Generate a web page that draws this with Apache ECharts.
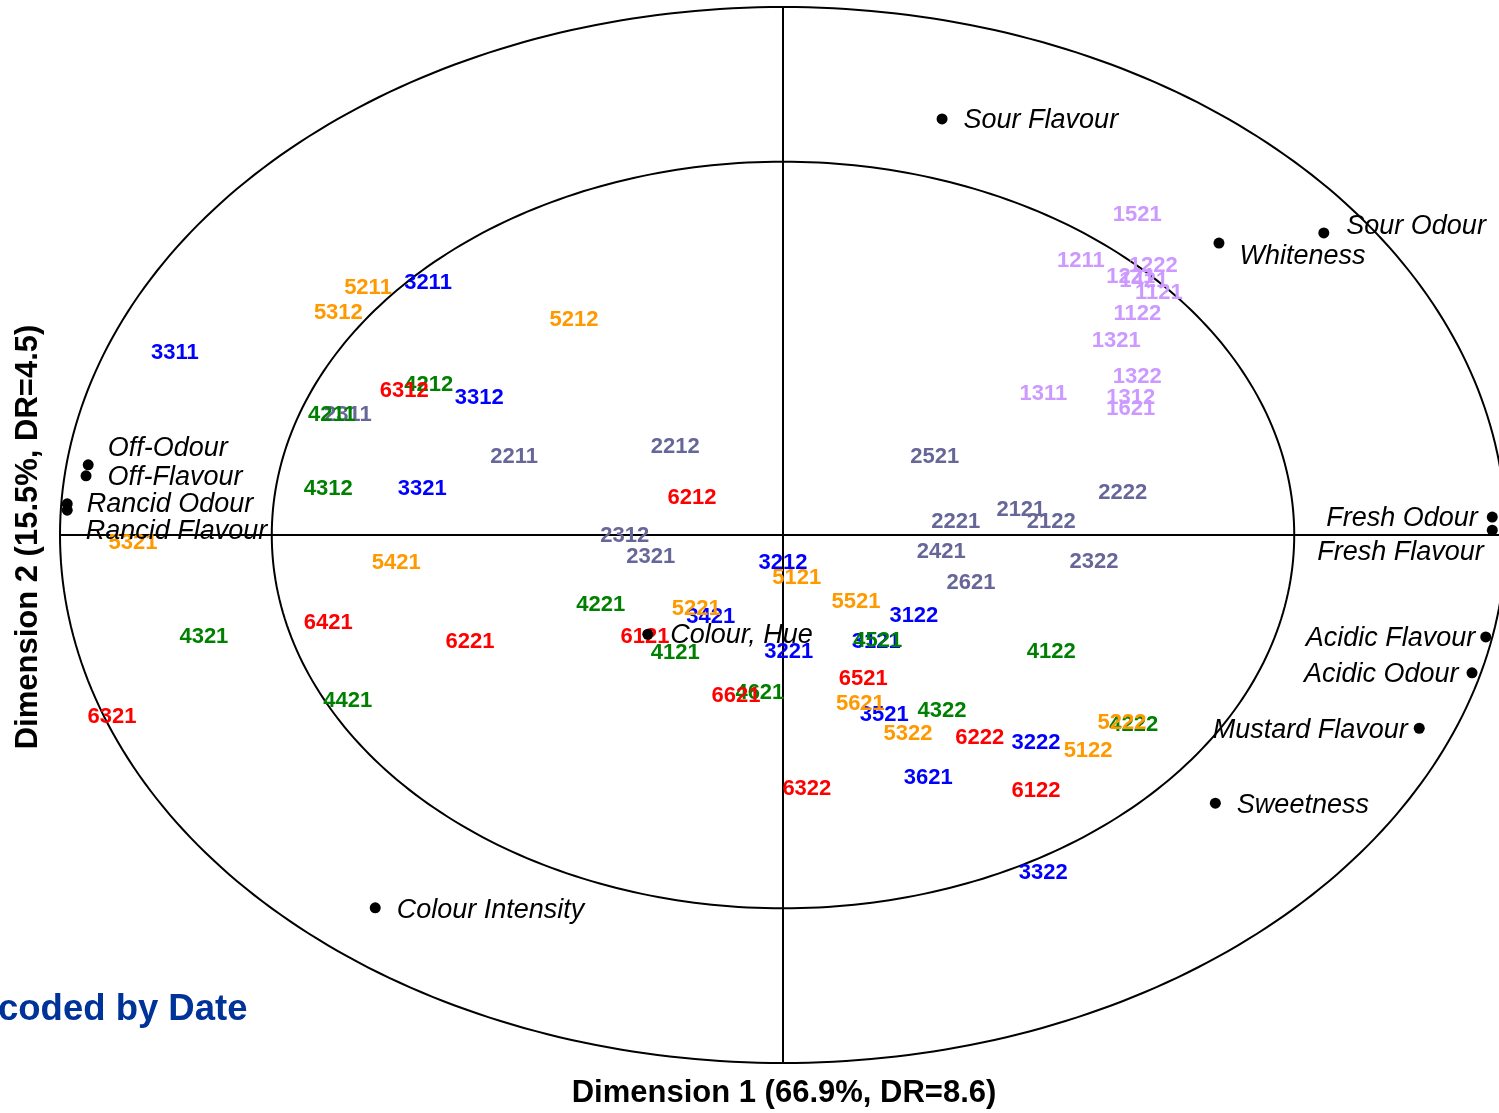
<!DOCTYPE html>
<html><head><meta charset="utf-8">
<script src="https://cdn.jsdelivr.net/npm/echarts@6/dist/echarts.min.js"></script>
<style>html,body{margin:0;padding:0;background:#fff;overflow:hidden}#c{width:1520px;height:1113px}</style>
</head><body><div id="c"></div>
<script>
// ---- Sample scores (Dimension 1, Dimension 2), grouped by date (first digit) ----
const date1Codes = ['1521','1211','1222','1221','1421','1121','1122','1321','1322','1311','1312','1621'];
const date1Dim1  = [0.490, 0.412, 0.512, 0.481, 0.499, 0.520, 0.490, 0.461, 0.490, 0.360, 0.481, 0.481];
const date1Dim2  = [0.606, 0.519, 0.509, 0.489, 0.481, 0.458, 0.419, 0.367, 0.299, 0.267, 0.259, 0.239];

const date2Codes = ['2211','2212','2521','2222','2221','2121','2122','2312','2321','2421','2621','2322','2311'];
const date2Dim1  = [-0.372,-0.149, 0.210, 0.470, 0.239, 0.329, 0.371,-0.219,-0.183, 0.219, 0.260, 0.430,-0.602];
const date2Dim2  = [ 0.148, 0.167, 0.148, 0.080, 0.025, 0.047, 0.025,-0.002,-0.042,-0.032,-0.091,-0.051, 0.227];

const date3Codes = ['3311','3211','3312','3321','3212','3421','3221','3122','3121','3521','3222','3621','3322'];
const date3Dim1  = [-0.841,-0.491,-0.420,-0.499, 0.000,-0.100, 0.008, 0.181, 0.129, 0.140, 0.350, 0.201, 0.360];
const date3Dim2  = [ 0.345, 0.477, 0.259, 0.087,-0.053,-0.155,-0.222,-0.153,-0.203,-0.341,-0.394,-0.460,-0.640];

const date4Codes = ['4211','4212','4312','4321','4221','4121','4421','4621','4521','4122','4322','4222'];
const date4Dim1  = [-0.624,-0.490,-0.629,-0.801,-0.252,-0.149,-0.602,-0.032, 0.131, 0.371, 0.220, 0.485];
const date4Dim2  = [ 0.227, 0.284, 0.087,-0.193,-0.133,-0.223,-0.314,-0.299,-0.201,-0.222,-0.333,-0.360];

const date5Codes = ['5211','5312','5212','5321','5421','5221','5121','5521','5621','5322','5122','5222'];
const date5Dim1  = [-0.574,-0.615,-0.289,-0.899,-0.535,-0.120, 0.019, 0.101, 0.107, 0.173, 0.422, 0.469];
const date5Dim2  = [ 0.468, 0.420, 0.407,-0.015,-0.053,-0.140,-0.081,-0.127,-0.320,-0.377,-0.409,-0.356];

const date6Codes = ['6312','6212','6421','6221','6121','6621','6321','6521','6222','6322','6122'];
const date6Dim1  = [-0.524,-0.126,-0.629,-0.433,-0.191,-0.065,-0.928, 0.111, 0.272, 0.033, 0.350];
const date6Dim2  = [ 0.273, 0.070,-0.167,-0.203,-0.193,-0.305,-0.345,-0.273,-0.384,-0.481,-0.485];

// ---- Sensory attributes (loadings) ----
const varNames = ['Sour Flavour','Whiteness','Sour Odour','Off-Odour','Off-Flavour','Rancid Odour','Rancid Flavour',
  'Fresh Odour','Fresh Flavour','Acidic Flavour','Acidic Odour','Mustard Flavour','Sweetness','Colour Intensity','Colour, Hue'];
const varDim1 = [0.220, 0.603, 0.748,-0.961,-0.964,-0.990,-0.990, 0.981, 0.981, 0.972, 0.953, 0.880, 0.598,-0.564,-0.187];
const varDim2 = [0.788, 0.553, 0.572, 0.133, 0.112, 0.059, 0.047, 0.034, 0.009,-0.193,-0.261,-0.366,-0.508,-0.706,-0.188];

// correlation ellipses (100% and 50% explained variance)
const ringRadii = [1, 0.7071];

// ---- label placement (style only) ----
const varLabelStyle = {
  'Sour Flavour':['right',16,2], 'Whiteness':['right',15,13], 'Sour Odour':['right',17,-6],
  'Off-Odour':['right',14,-16], 'Off-Flavour':['right',16,2], 'Rancid Odour':['right',14,1],
  'Rancid Flavour':['right',13,21], 'Fresh Odour':['left',9,1], 'Fresh Flavour':['left',3,22],
  'Acidic Flavour':['left',5,2], 'Acidic Odour':['left',8,2], 'Mustard Flavour':['left',6,2],
  'Sweetness':['right',16,2], 'Colour Intensity':['right',16,3], 'Colour, Hue':['right',17,1]
};

const groups = [
  {codes:date1Codes, x:date1Dim1, y:date1Dim2, color:'#cc99ff'},
  {codes:date2Codes, x:date2Dim1, y:date2Dim2, color:'#666699'},
  {codes:date3Codes, x:date3Dim1, y:date3Dim2, color:'#0000ff'},
  {codes:date4Codes, x:date4Dim1, y:date4Dim2, color:'#008000'},
  {codes:date5Codes, x:date5Dim1, y:date5Dim2, color:'#ff9900'},
  {codes:date6Codes, x:date6Dim1, y:date6Dim2, color:'#ff0000'}
];

const FONT = '"Liberation Sans", Arial, Helvetica, sans-serif';

const series = [];
series.push({
  type:'custom', coordinateSystem:'cartesian2d', silent:true, z:1,
  data: ringRadii.map(r => [0, 0, r]),
  encode:{x:0, y:1},
  renderItem: function(params, api){
    const r = api.value(2);
    const pts = [];
    for (let i = 0; i <= 360; i += 1) {
      const t = i * Math.PI / 180;
      pts.push(api.coord([r * Math.cos(t), r * Math.sin(t)]));
    }
    return {type:'polyline', shape:{points:pts}, style:{stroke:'#000', fill:null, lineWidth:2}};
  }
});

groups.forEach(g => {
  series.push({
    type:'scatter', z:3, symbolSize:1, itemStyle:{color:'rgba(0,0,0,0)', opacity:1}, silent:true,
    data: g.codes.map((c,i) => [g.x[i], g.y[i], c]),
    label:{show:true, position:'inside', formatter:p => p.data[2],
      color:g.color, fontFamily:FONT, fontWeight:'bold', fontSize:22}
  });
});

series.push({
  type:'scatter', z:4, symbol:'circle', symbolSize:11, silent:true,
  itemStyle:{color:'#000', opacity:1},
  data: varNames.map((n,i) => {
    const s = varLabelStyle[n];
    return {value:[varDim1[i], varDim2[i]], name:n,
      label:{position:s[0], distance:s[1], offset:[0, s[2]]}};
  }),
  label:{show:true, formatter:'{b}', color:'#000', fontFamily:FONT, fontStyle:'italic', fontSize:27}
});

const chart = echarts.init(document.getElementById('c'), null, {renderer:'canvas'});
chart.setOption({
  animation:false,
  backgroundColor:'#fff',
  grid:{left:60, width:1446, top:7, height:1056},
  xAxis:{type:'value', min:-1, max:1, axisLine:{onZero:true, lineStyle:{color:'#000', width:2}},
    axisTick:{show:false}, axisLabel:{show:false}, splitLine:{show:false}},
  yAxis:{type:'value', min:-1, max:1, axisLine:{onZero:true, lineStyle:{color:'#000', width:2}},
    axisTick:{show:false}, axisLabel:{show:false}, splitLine:{show:false}},
  series: series,
  graphic:[
    {type:'text', x:784, y:1093, style:{text:'Dimension 1 (66.9%, DR=8.6)', x:0, y:0,
      textAlign:'center', textVerticalAlign:'middle', font:'bold 31px ' + FONT, fill:'#000'}},
    {type:'text', rotation:Math.PI/2, x:28, y:537, style:{text:'Dimension 2 (15.5%, DR=4.5)', x:0, y:0,
      textAlign:'center', textVerticalAlign:'middle', font:'bold 31px ' + FONT, fill:'#000'}},
    {type:'text', x:-2, y:1010, style:{text:'coded by Date', x:0, y:0, textAlign:'left',
      textVerticalAlign:'middle', font:'bold 36.5px ' + FONT, fill:'#003399'}}
  ]
});
</script></body></html>
